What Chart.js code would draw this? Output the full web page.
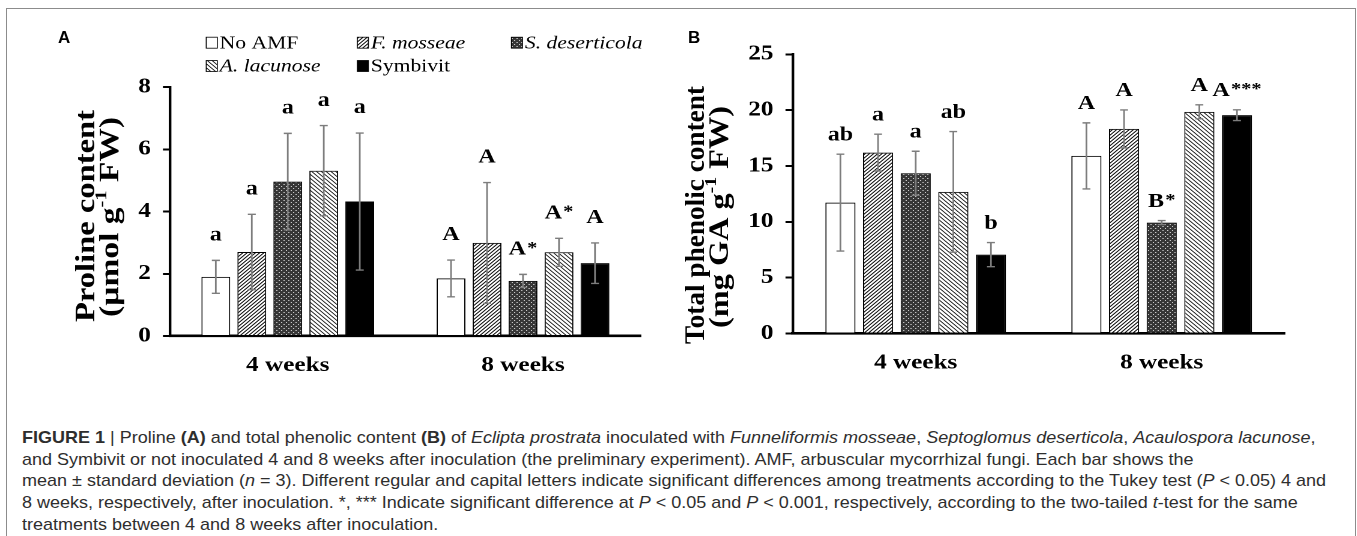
<!DOCTYPE html>
<html>
<head>
<meta charset="utf-8">
<title>Proline and total phenolic content</title>
<script src="https://cdn.jsdelivr.net/npm/chart.js@4.4.0/dist/chart.umd.min.js"></script>
<style>
  html, body { margin: 0; padding: 0; background: #fff; }
  body { width: 1357px; height: 536px; position: relative; overflow: hidden; }
  #frame { position: absolute; left: 6px; top: 8px; width: 1350px; height: 560px;
           border: 1.5px solid #8c8c8c; box-sizing: border-box; }
  /* each panel is laid out narrow and widened, so its serif text comes out broad */
  .panel { position: absolute; top: 0; height: 400px; transform: scaleX(1.2); transform-origin: 0 0; }
  #panelA { left: 0; width: 566.67px; }
  #panelB { left: 680px; width: 564.17px; }
  .tag { position: absolute; font: bold 17px "Liberation Sans", Arial, sans-serif; color: #000; line-height: 1; }
  #caption { position: absolute; left: 22px; top: 427px; color: #2e2e2e;
             font-family: "Liberation Sans Narrow", "Liberation Sans", Arial, sans-serif; font-size: 17px; }
  #caption div { height: 21.7px; line-height: 21.7px; white-space: nowrap; }
  #caption span.line { display: inline-block; transform-origin: 0 50%; }
</style>
</head>
<body>
<div id="frame"></div>
<div class="panel" id="panelA"><canvas id="chartA"></canvas></div>
<div class="panel" id="panelB"><canvas id="chartB"></canvas></div>
<div class="tag" style="left:58px;top:29px;">A</div>
<div class="tag" style="left:688px;top:29px;">B</div>
<div id="caption">
  <div><span class="line"><b>FIGURE 1</b> | Proline <b>(A)</b> and total phenolic content <b>(B)</b> of <i>Eclipta prostrata</i> inoculated with <i>Funneliformis mosseae</i>, <i>Septoglomus deserticola</i>, <i>Acaulospora lacunose</i>,</span></div>
  <div><span class="line">and Symbivit or not inoculated 4 and 8 weeks after inoculation (the preliminary experiment). AMF, arbuscular mycorrhizal fungi. Each bar shows the</span></div>
  <div><span class="line" id="longLine">mean ± standard deviation (<i>n</i> = 3). Different regular and capital letters indicate significant differences among treatments according to the Tukey test (<i>P</i> &lt; 0.05) 4 and</span></div>
  <div><span class="line">8 weeks, respectively, after inoculation. *, *** Indicate significant difference at <i>P</i> &lt; 0.05 and <i>P</i> &lt; 0.001, respectively, according to the two-tailed <i>t</i>-test for the same</span></div>
  <div><span class="line">treatments between 4 and 8 weeks after inoculation.</span></div>
</div>

<script>
// ---- data ----
const categories = ['4 weeks', '8 weeks'];
const treatments = ['No AMF', 'F. mosseae', 'S. deserticola', 'A. lacunose', 'Symbivit'];
const italicNames = [false, true, true, true, false];

// Proline content (µmol g-1 FW): one row per treatment, [4 weeks, 8 weeks]
const prolineMean = [[1.90, 1.85], [2.70, 2.99], [4.96, 1.77], [5.31, 2.69], [4.32, 2.34]];
const prolineSD   = [[0.53, 0.59], [1.21, 1.94], [1.55, 0.21], [1.45, 0.45], [2.20, 0.65]];
const prolineLetters = [['a', 'A'], ['a', 'A'], ['a', 'A*'], ['a', 'A*'], ['a', 'A']];
const prolineTicks = [0, 2, 4, 6, 8];

// Total phenolic content (mg GA g-1 FW)
const phenolicMean = [[11.72, 15.90], [16.20, 18.32], [14.35, 9.93], [12.68, 19.85], [7.06, 19.55]];
const phenolicSD   = [[4.34, 2.96], [1.65, 1.70], [1.97, 0.18], [5.40, 0.63], [1.08, 0.48]];
const phenolicLetters = [['ab', 'A'], ['a', 'A'], ['a', 'B*'], ['ab', 'A'], ['b', 'A***']];
const phenolicTicks = [0, 5, 10, 15, 20, 25];

// ---- bar fills ----
const SERIF = '"Liberation Serif", "Times New Roman", serif';

function tile(size, paint) {
  const c = document.createElement('canvas');
  c.width = size; c.height = size;
  const g = c.getContext('2d');
  paint(g, size);
  const p = g.createPattern(c, 'repeat');
  p.setTransform(new DOMMatrix().scale(0.5));
  return p;
}
function diagonal(forward, size, width) {
  return tile(size, (g, s) => {
    g.fillStyle = '#fff'; g.fillRect(0, 0, s, s);
    g.strokeStyle = '#000'; g.lineWidth = width; g.beginPath();
    if (forward) {
      g.moveTo(-1, s + 1); g.lineTo(s + 1, -1);
      g.moveTo(-1, 1); g.lineTo(1, -1);
      g.moveTo(s - 1, s + 1); g.lineTo(s + 1, s - 1);
    } else {
      g.moveTo(-1, -1); g.lineTo(s + 1, s + 1);
      g.moveTo(s - 1, -1); g.lineTo(s + 1, 1);
      g.moveTo(-1, s - 1); g.lineTo(1, s + 1);
    }
    g.stroke();
  });
}
const dotted = tile(8, (g) => {
  g.fillStyle = '#363636'; g.fillRect(0, 0, 8, 8);
  g.fillStyle = '#c8c8c8';
  g.fillRect(0, 0, 2, 2); g.fillRect(4, 4, 2, 2);
});
const fills = ['#ffffff', diagonal(true, 7, 1.7), dotted, diagonal(false, 8, 1.5), '#000000'];

// ---- plugins ----
// error bars (mean ± SD) and the significance letters above them;
// trailing asterisks are set a little smaller and raised
const errorBarsAndLetters = {
  id: 'errorBarsAndLetters',
  afterDatasetsDraw(chart, args, opts) {
    const { ctx } = chart;
    const y = chart.scales.y;
    const letterFont = 'bold 20px ' + SERIF;
    const starFont = 'bold 17px ' + SERIF;
    ctx.save();
    chart.data.datasets.forEach((ds, i) => {
      chart.getDatasetMeta(i).data.forEach((bar, j) => {
        const m = ds.data[j], s = opts.sd[i][j];
        const hi = y.getPixelForValue(m + s), lo = y.getPixelForValue(m - s);
        ctx.strokeStyle = '#7d7d7d';
        ctx.lineWidth = 1.4;
        ctx.beginPath();
        ctx.moveTo(bar.x, hi); ctx.lineTo(bar.x, lo);
        ctx.moveTo(bar.x - opts.cap, hi); ctx.lineTo(bar.x + opts.cap, hi);
        ctx.moveTo(bar.x - opts.cap, lo); ctx.lineTo(bar.x + opts.cap, lo);
        ctx.stroke();

        const label = opts.letters[i][j];
        const base = label.replace(/\*+$/, '');
        const stars = label.slice(base.length);
        ctx.font = letterFont;
        const wb = ctx.measureText(base).width;
        ctx.font = starFont;
        const ws = stars ? ctx.measureText(stars).width + 1 : 0;
        const x0 = bar.x - (wb + ws) / 2;
        const yc = hi - opts.gap;
        ctx.fillStyle = '#000';
        ctx.textAlign = 'left';
        ctx.textBaseline = 'middle';
        ctx.font = letterFont;
        ctx.fillText(base, x0, yc);
        if (stars) {
          ctx.font = starFont;
          ctx.fillText(stars, x0 + wb + 1, yc - 1);
        }
      });
    });
    ctx.restore();
  }
};

// two-line rotated axis title with a superscript exponent
const axisTitle = {
  id: 'axisTitle',
  afterDraw(chart, args, opts) {
    const { ctx } = chart;
    ctx.save();
    ctx.fillStyle = '#000';
    ctx.textBaseline = 'middle';
    opts.lines.forEach((parts, k) => {
      const big = 'bold ' + opts.size + 'px ' + SERIF;
      const small = 'bold ' + Math.round(opts.size * 0.62) + 'px ' + SERIF;
      let total = 0;
      const widths = parts.map(p => { ctx.font = p.sup ? small : big; const w = ctx.measureText(p.t).width; total += w; return w; });
      ctx.save();
      ctx.translate(opts.x[k], opts.cy[k]);
      ctx.rotate(-Math.PI / 2);
      ctx.scale(opts.len[k] / total, 1);
      let cx = -total / 2;
      parts.forEach((p, n) => {
        ctx.font = p.sup ? small : big;
        ctx.textAlign = 'left';
        ctx.fillText(p.t, cx, p.sup ? -opts.size * 0.33 : 0);
        cx += widths[n];
      });
      ctx.restore();
    });
    ctx.restore();
  }
};

// legend laid out as a small grid above panel A
const gridLegend = {
  id: 'gridLegend',
  afterDraw(chart, args, opts) {
    if (!opts.show) return;
    const { ctx } = chart;
    ctx.save();
    chart.data.datasets.forEach((ds, i) => {
      const x = opts.cols[opts.place[i][0]], y = opts.rows[opts.place[i][1]];
      ctx.fillStyle = ds.backgroundColor;
      ctx.fillRect(x, y - 5.5, opts.box, 11);
      ctx.strokeStyle = '#000'; ctx.lineWidth = 0.8;
      ctx.strokeRect(x, y - 5.5, opts.box, 11);
      ctx.fillStyle = '#000';
      ctx.font = (italicNames[i] ? 'italic ' : '') + '18px ' + SERIF;
      ctx.textAlign = 'left'; ctx.textBaseline = 'middle';
      ctx.fillText(ds.label, x + opts.box + 2, y + 1);
    });
    ctx.restore();
  }
};

// ---- chart builder ----
function buildChart(id, cfg) {
  return new Chart(document.getElementById(id), {
    type: 'bar',
    data: {
      labels: categories,
      datasets: treatments.map((name, i) => ({
        label: name,
        data: cfg.mean[i],
        backgroundColor: fills[i],
        borderColor: '#000',
        borderWidth: 1,
        categoryPercentage: 0.765,
        barPercentage: 0.8
      }))
    },
    options: {
      responsive: true,
      maintainAspectRatio: false,
      animation: false,
      devicePixelRatio: 2,
      layout: { padding: { top: cfg.top, right: cfg.right, left: 0, bottom: 0 } },
      scales: {
        x: {
          grid: { drawOnChartArea: false, drawTicks: false },
          border: { display: true, color: '#000', width: 2.6 },
          ticks: { color: '#000', font: { family: SERIF, size: 21, weight: 'bold' }, padding: 17 },
          afterFit: s => { s.height = cfg.xHeight; }
        },
        y: {
          min: 0,
          max: cfg.ticks[cfg.ticks.length - 1],
          afterBuildTicks: s => { s.ticks = cfg.ticks.map(v => ({ value: v })); },
          grid: { drawOnChartArea: false, drawTicks: true, tickLength: 6, color: '#000', lineWidth: 2 },
          border: { display: true, color: '#000', width: 2.2 },
          ticks: { color: '#000', font: { family: SERIF, size: 21, weight: 'bold' }, padding: 10 },
          afterFit: s => { s.width = cfg.yWidth; }
        }
      },
      plugins: {
        legend: { display: false },
        tooltip: { enabled: false },
        errorBarsAndLetters: { sd: cfg.sd, letters: cfg.letters, gap: cfg.gap, cap: 3.3 },
        axisTitle: cfg.title,
        gridLegend: cfg.legend
      }
    },
    plugins: [errorBarsAndLetters, axisTitle, gridLegend]
  });
}

buildChart('chartA', {
  mean: prolineMean, sd: prolineSD, letters: prolineLetters, ticks: prolineTicks,
  top: 87, right: 33.33, yWidth: 141.67, xHeight: 64, gap: 25,
  title: {
    size: 23, x: [72.5, 92.5], cy: [216, 217], len: [212, 200],
    lines: [
      [{ t: 'Proline content' }],
      [{ t: '(µmol g' }, { t: '-1', sup: true }, { t: ' FW)' }]
    ]
  },
  legend: {
    show: true, box: 9.2, cols: [171.7, 297.5, 425.8], rows: [42.7, 66],
    place: [[0, 0], [1, 0], [2, 0], [0, 1], [1, 1]]
  }
});

buildChart('chartB', {
  mean: phenolicMean, sd: phenolicSD, letters: phenolicLetters, ticks: phenolicTicks,
  top: 54.3, right: 60.3, yWidth: 93.9, xHeight: 66.5, gap: 19,
  title: {
    size: 23, x: [14.2, 34.2], cy: [215, 217], len: [258, 222],
    lines: [
      [{ t: 'Total phenolic content' }],
      [{ t: '(mg GA g' }, { t: '-1', sup: true }, { t: ' FW)' }]
    ]
  },
  legend: { show: false }
});

// caption: one common horizontal factor so the longest line spans the text block
(function fitCaption() {
  const target = 1304;
  const w = document.getElementById('longLine').getBoundingClientRect().width;
  const k = target / w;
  document.querySelectorAll('#caption span.line').forEach(el => { el.style.transform = 'scaleX(' + k + ')'; });
})();
</script>
</body>
</html>
